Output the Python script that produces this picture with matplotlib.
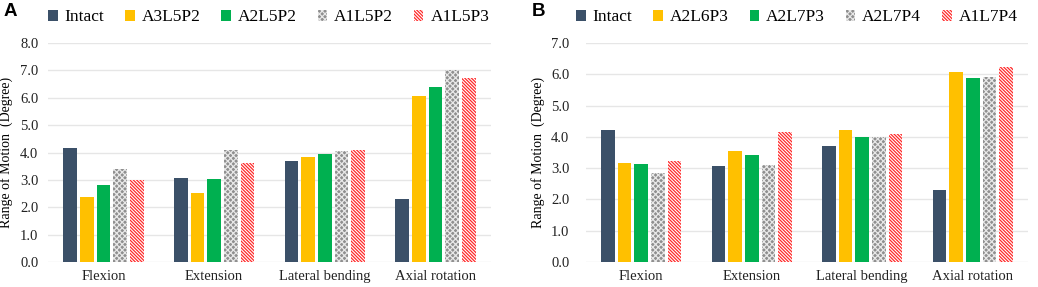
import numpy as np
import matplotlib
matplotlib.use("Agg")
import matplotlib.pyplot as plt
from matplotlib.patches import Patch

plt.rcParams['font.family'] = ['Liberation Serif', 'DejaVu Serif']
plt.rcParams['hatch.linewidth'] = 0.9

categories = ["Flexion", "Extension", "Lateral bending", "Axial rotation"]

# panel A
series_a = ["Intact", "A3L5P2", "A2L5P2", "A1L5P2", "A1L5P3"]
intact_a = [4.18, 3.07, 3.69, 2.31]
a3l5p2 = [2.39, 2.52, 3.85, 6.05]
a2l5p2 = [2.82, 3.03, 3.96, 6.38]
a1l5p2 = [3.38, 4.08, 4.06, 7.00]
a1l5p3 = [3.01, 3.60, 4.08, 6.72]

# panel B
series_b = ["Intact", "A2L6P3", "A2L7P3", "A2L7P4", "A1L7P4"]
intact_b = [4.21, 3.08, 3.71, 2.31]
a2l6p3 = [3.17, 3.54, 4.21, 6.06]
a2l7p3 = [3.12, 3.42, 4.00, 5.89]
a2l7p4 = [2.86, 3.10, 4.01, 5.91]
a1l7p4 = [3.22, 4.17, 4.08, 6.24]

# (facecolor, hatch, hatchcolor)
styles = [
    ("#3B5068", None, "#3B5068"),
    ("#FFC000", None, "#FFC000"),
    ("#00B050", None, "#00B050"),
    ("#8F8F8F", "xxxxxx", "#E8E8E8"),
    ("#FFFFFF", "\\" * 10, "#FF2A2A"),
]


def draw_panel(ax, names, data, ymax, label_pad):
    x = np.arange(len(categories))
    step = 0.151
    width = 0.124
    for i, vals in enumerate(data):
        fc, hatch, hc = styles[i]
        offset = (i - 2) * step
        ax.bar(x + offset, vals, width, color=fc, hatch=hatch,
               edgecolor=hc, linewidth=0, zorder=3, label=names[i])
    ax.set_xlim(-0.5, len(categories) - 0.5)
    ax.set_ylim(0, ymax)
    ticks = np.arange(0, ymax + 0.01, 1.0)
    ax.set_yticks(ticks)
    ax.set_yticklabels([f"{v:.1f}" for v in ticks], fontsize=10.5)
    ax.set_xticks(x)
    ax.set_xticklabels(categories, fontsize=10.5)
    ax.tick_params(axis='both', length=0, colors="#222222")
    ax.tick_params(axis='y', pad=label_pad)
    ax.tick_params(axis='x', pad=6)
    ax.grid(True, axis='y', color="#E6E6E6", linewidth=1.0, zorder=0)
    for s in ax.spines.values():
        s.set_visible(False)
    ax.set_ylabel("Range of Motion  (Degree)", fontsize=10)

    handles = [Patch(facecolor=styles[i][0], hatch=styles[i][1],
                     edgecolor=styles[i][2], linewidth=0) for i in range(5)]
    ax.legend(handles, names, ncol=5, loc='lower left',
              frameon=False, fontsize=12.5, handlelength=0.55, handleheight=0.55,
              handletextpad=0.4, columnspacing=1.2, borderpad=0, borderaxespad=0)


fig = plt.figure(figsize=(10.38, 2.87), dpi=100)
ax_a = fig.add_axes([48 / 1038, 25 / 287, 443 / 1038, 219 / 287])
ax_b = fig.add_axes([586 / 1038, 25 / 287, 442 / 1038, 219 / 287])

draw_panel(ax_a, series_a, [intact_a, a3l5p2, a2l5p2, a1l5p2, a1l5p3], 8.0, 7)
draw_panel(ax_b, series_b, [intact_b, a2l6p3, a2l7p3, a2l7p4, a1l7p4], 7.0, 12)

ax_a.get_legend().set_bbox_to_anchor((0.0, 1.08))
ax_b.get_legend().set_bbox_to_anchor((-0.022, 1.08))
ax_a.yaxis.set_label_coords(-0.078, 0.5)
ax_b.yaxis.set_label_coords(-0.092, 0.5)

fig.text(4 / 1038, 1 - 12 / 287, "A", fontsize=13.5, fontweight='bold',
         family='Liberation Sans', va='center', ha='left')
fig.text(532 / 1038, 1 - 12 / 287, "B", fontsize=13.5, fontweight='bold',
         family='Liberation Sans', va='center', ha='left')

fig.savefig("out.png", dpi=100)
